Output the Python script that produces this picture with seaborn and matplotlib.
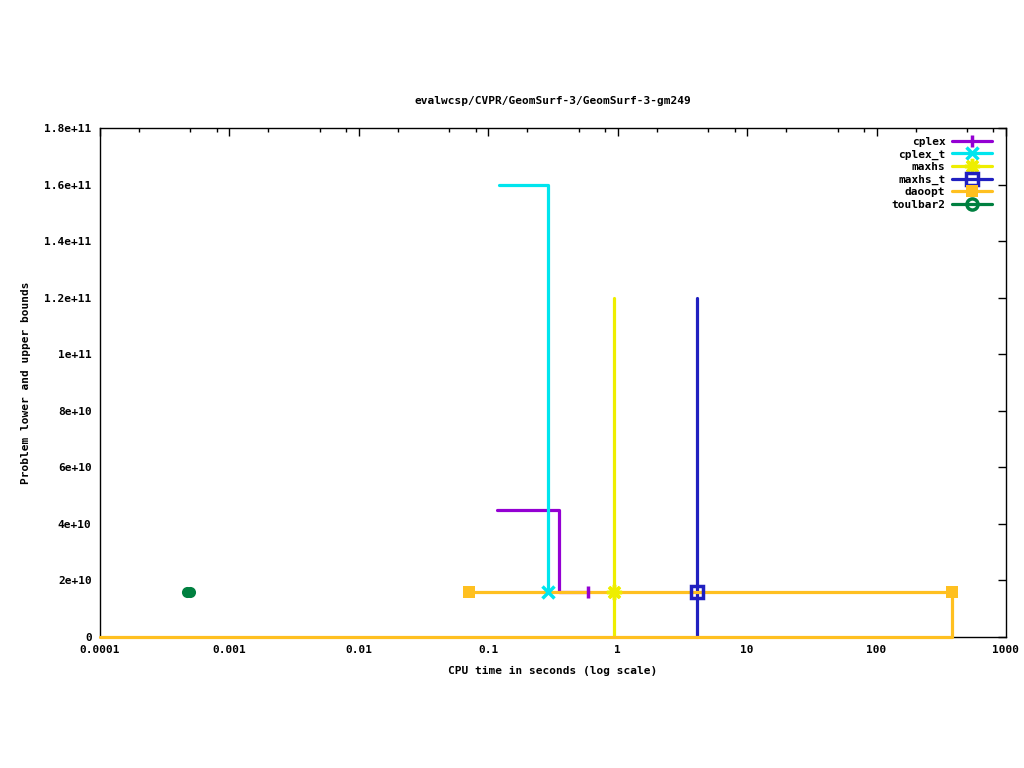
import matplotlib
matplotlib.use("Agg")
import matplotlib.pyplot as plt
import seaborn as sns
import pandas as pd
from matplotlib.lines import Line2D
from matplotlib.ticker import FixedLocator, LogLocator, NullFormatter

# step curves (time in s, bound value)
cplex_x = [0.117, 0.351, 0.589]
cplex_y = [4.5e10, 1.6e10, 1.6e10]
cplex_mx = [0.589]
cplex_my = [1.6e10]

cplex_t_x = [0.121, 0.289]
cplex_t_y = [1.6e11, 1.6e10]
cplex_t_mx = [0.289]
cplex_t_my = [1.6e10]

maxhs_x = [0.936, 0.936]
maxhs_y = [1.2e11, 0]
maxhs_mx = [0.936]
maxhs_my = [1.6e10]

maxhs_t_x = [4.1, 4.1]
maxhs_t_y = [1.2e11, 0]
maxhs_t_mx = [4.1]
maxhs_t_my = [1.6e10]

daoopt_x = [0.071, 383]
daoopt_y = [1.6e10, 1.6e10]
daoopt_lo_x = [0.0001, 383, 383]
daoopt_lo_y = [0, 0, 1.6e10]
daoopt_mx = [0.071, 383]
daoopt_my = [1.6e10, 1.6e10]

toulbar2_mx = [0.00047, 0.00050]
toulbar2_my = [1.6e10, 1.6e10]

yticks = [0, 2e10, 4e10, 6e10, 8e10, 1e11, 1.2e11, 1.4e11, 1.6e11, 1.8e11]
ytick_labels = ["0", "2e+10", "4e+10", "6e+10", "8e+10", "1e+11",
                "1.2e+11", "1.4e+11", "1.6e+11", "1.8e+11"]
xticks = [0.0001, 0.001, 0.01, 0.1, 1, 10, 100, 1000]
xtick_labels = ["0.0001", "0.001", "0.01", "0.1", "1", "10", "100", "1000"]

sns.set_style("white")
plt.rcParams['font.family'] = ['DejaVu Sans Mono']
plt.rcParams['font.size'] = 8
plt.rcParams['font.weight'] = 'bold'
plt.rcParams['text.color'] = 'black'
plt.rcParams['axes.labelcolor'] = 'black'

colors = {
    "cplex": "#9400d3",
    "cplex_t": "#00e5ee",
    "maxhs": "#eeee00",
    "maxhs_t": "#2020c0",
    "daoopt": "#ffc020",
    "toulbar2": "#008040",
}
markers = {
    "cplex": dict(marker="|", ms=9, mew=2.5),
    "cplex_t": dict(marker="x", ms=9, mew=2.5),
    "maxhs": dict(marker=(8, 2, 0), ms=11, mew=2.5),
    "maxhs_t": dict(marker="s", ms=8, mew=2.5, fillstyle="none"),
    "daoopt": dict(marker="s", ms=9, mew=0),
    "toulbar2": dict(marker="o", ms=8, mew=0),
}

fig = plt.figure(figsize=(10.24, 7.68), dpi=100)
ax = fig.add_axes([100 / 1024, 1 - 637 / 768, 906 / 1024, 509 / 768])

lines = [
    ("cplex", cplex_x, cplex_y),
    ("cplex_t", cplex_t_x, cplex_t_y),
    ("maxhs", maxhs_x, maxhs_y),
    ("maxhs_t", maxhs_t_x, maxhs_t_y),
    ("daoopt", daoopt_lo_x, daoopt_lo_y),
    ("daoopt", daoopt_x, daoopt_y),
]
for name, xs, ys in lines:
    df = pd.DataFrame({"t": xs, "v": ys})
    sns.lineplot(data=df, x="t", y="v", estimator=None, sort=False,
                 drawstyle="steps-post", color=colors[name], lw=2.3, ax=ax,
                 clip_on=False, zorder=3)

pts = [
    ("cplex", cplex_mx, cplex_my),
    ("cplex_t", cplex_t_mx, cplex_t_my),
    ("maxhs", maxhs_mx, maxhs_my),
    ("maxhs_t", maxhs_t_mx, maxhs_t_my),
    ("daoopt", daoopt_mx, daoopt_my),
    ("toulbar2", toulbar2_mx, toulbar2_my),
]
for name, xs, ys in pts:
    m = markers[name]
    ax.plot(xs, ys, ls="none", color=colors[name], mec=colors[name], zorder=5, **m)

ax.set_xscale("log")
ax.set_xlim(0.0001, 1000)
ax.set_ylim(0, 1.8e11)
ax.xaxis.set_major_locator(FixedLocator(xticks))
ax.set_xticklabels(xtick_labels)
ax.xaxis.set_minor_locator(LogLocator(base=10, subs=[2, 5, 8]))
ax.xaxis.set_minor_formatter(NullFormatter())
ax.set_yticks(yticks)
ax.set_yticklabels(ytick_labels)
ax.tick_params(which="both", direction="in", top=True, right=True, width=1,
               colors="black", labelsize=8)
ax.tick_params(which="major", length=6, pad=6)
ax.tick_params(which="minor", length=3)
for s in ax.spines.values():
    s.set_color("black")
    s.set_linewidth(1)
    s.set_zorder(2)

ax.set_title("evalwcsp/CVPR/GeomSurf-3/GeomSurf-3-gm249", fontsize=8,
             fontweight="bold", pad=17)
ax.set_xlabel("CPU time in seconds (log scale)", fontsize=8, fontweight="bold", labelpad=8)
ax.set_ylabel("Problem lower and upper bounds", fontsize=8, fontweight="bold", labelpad=10)

handles = []
for name in ["cplex", "cplex_t", "maxhs", "maxhs_t", "daoopt", "toulbar2"]:
    m = dict(markers[name])
    if name == "toulbar2":
        m = dict(marker="o", ms=8, mew=2.5, fillstyle="none")
    handles.append(Line2D([], [], color=colors[name], mec=colors[name], lw=2.3, label=name, **m))
leg = ax.legend(handles=handles, loc="upper right", bbox_to_anchor=(0.9945, 1.0),
                markerfirst=False, frameon=False,
                handlelength=3.6, handletextpad=0.6, labelspacing=0.22,
                borderaxespad=0.4, prop={"weight": "bold", "size": 8})

fig.savefig("out.png", dpi=100)
